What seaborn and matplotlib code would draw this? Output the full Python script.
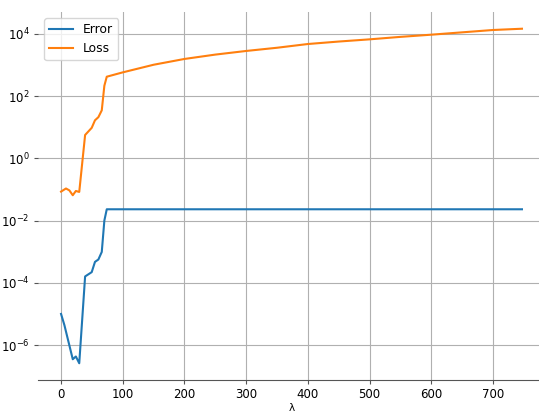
import matplotlib
matplotlib.use("Agg")
import matplotlib.pyplot as plt
import matplotlib.ticker as mticker
import seaborn as sns
import pandas as pd

# Error series
error_x = [0, 5.4, 19, 24, 29.5, 39, 49.7, 55, 60.5, 66, 70.2, 74.1, 747]
error_y = [1.0e-5, 4.4e-6, 3.5e-7, 4.3e-7, 2.6e-7, 1.6e-4, 2.2e-4, 4.7e-4,
           5.6e-4, 9.8e-4, 1.0e-2, 2.3e-2, 2.3e-2]

# Loss series
loss_x = [0, 8, 13.5, 19, 24, 29.5, 39, 49.7, 55, 60.5, 66, 70.2, 74.1,
          100, 150, 200, 250, 300, 350, 400, 450, 500, 550, 600, 700, 747]
loss_y = [0.085, 0.107, 0.093, 0.065, 0.089, 0.083, 5.6, 9.5, 16.6, 20.9,
          34.7, 214, 417, 575, 1010, 1550, 2140, 2800, 3550, 4680, 5620,
          6610, 7940, 9330, 13200, 14500]

y_ticks = [1e-6, 1e-4, 1e-2, 1e0, 1e2, 1e4]
x_ticks = [0, 100, 200, 300, 400, 500, 600, 700]

err_df = pd.DataFrame({"lam": error_x, "val": error_y})
loss_df = pd.DataFrame({"lam": loss_x, "val": loss_y})

fig = plt.figure(figsize=(5.39, 4.12), dpi=100)
ax = fig.add_axes([38 / 539, 32 / 412, 507 / 539, 368 / 412])
ax.set_yscale("log")

sns.lineplot(data=err_df, x="lam", y="val", ax=ax, label="Error",
             color="tab:blue", linewidth=1.5)
sns.lineplot(data=loss_df, x="lam", y="val", ax=ax, label="Loss",
             color="tab:orange", linewidth=1.5)

ax.set_yticks(y_ticks)
ax.yaxis.set_minor_locator(mticker.NullLocator())
ax.set_xticks(x_ticks)
ax.tick_params(axis="both", labelsize=8.5, length=3, pad=3, color="#555555")
ax.grid(True, color="#b0b0b0", linewidth=0.8)
ax.set_axisbelow(True)
for s in ["left", "top", "right"]:
    ax.spines[s].set_visible(False)
ax.spines["bottom"].set_color("#555555")
ax.set_xlabel("λ", fontsize=7.5, labelpad=1)
ax.set_ylabel("")
ax.legend(loc="upper left", fontsize=8.8)

fig.savefig("out.png", dpi=100)
